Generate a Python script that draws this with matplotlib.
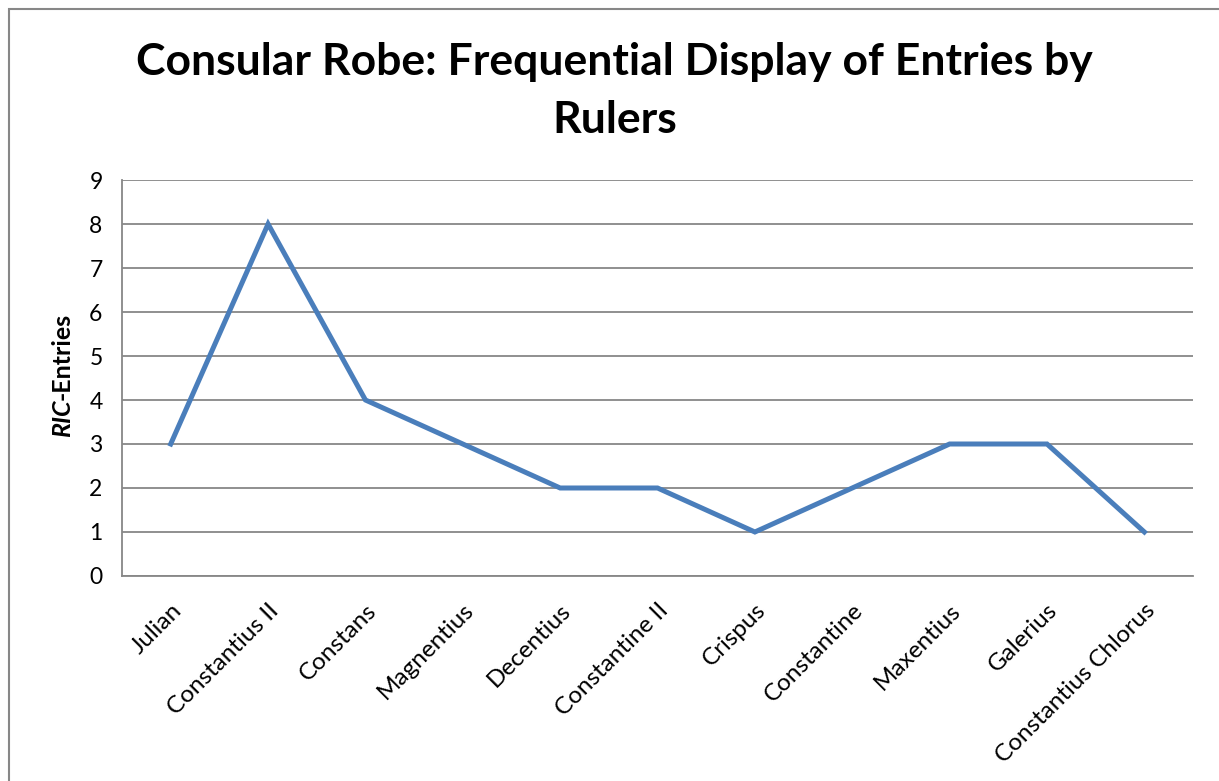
import matplotlib
matplotlib.use("Agg")
import matplotlib.pyplot as plt
from matplotlib.patches import Rectangle

# values
rulers = ["Julian", "Constantius II", "Constans", "Magnentius", "Decentius",
          "Constantine II", "Crispus", "Constantine", "Maxentius", "Galerius",
          "Constantius Chlorus"]
entries = [3, 8, 4, 3, 2, 2, 1, 2, 3, 3, 1]
y_ticks = list(range(0, 10))

plt.rcParams['font.family'] = ['Lato', 'DejaVu Sans']

fig = plt.figure(figsize=(12.19, 7.81), dpi=100)
ax = fig.add_axes([0.1001, 0.2625, 0.8786, 0.507])

x = list(range(len(rulers)))
ax.plot(x, entries, color="#4a7ebb", linewidth=3.6, solid_joinstyle="miter", zorder=3)

ax.set_xlim(-0.5, len(rulers) - 0.5)
ax.set_ylim(0, 9)
ax.set_yticks(y_ticks)
ax.set_yticklabels([str(v) for v in y_ticks], fontsize=16.5)
ax.set_xticks(x)
ax.set_xticklabels(rulers, rotation=45, ha="right", rotation_mode="anchor", fontsize=17.5)
ax.tick_params(axis="x", length=0, pad=17)
ax.tick_params(axis="y", length=0, pad=14)

ax.grid(axis="y", color="#878787", linewidth=1.3, zorder=1)
ax.set_axisbelow(True)
for side in ["top", "right"]:
    ax.spines[side].set_visible(False)
for side in ["left", "bottom"]:
    ax.spines[side].set_color("#878787")
    ax.spines[side].set_linewidth(1.3)

# y label: italic "RIC" followed by "-Entries"
t1 = fig.text(0.051, 0.44, "RIC", rotation=90, fontsize=18, fontweight="bold",
              fontstyle="italic", ha="center", va="bottom")
ax.annotate("-Entries", xy=(0.5, 1.0), xycoords=t1, rotation=90, fontsize=18,
            fontweight="bold", ha="center", va="bottom", annotation_clip=False)

fig.text(0.504, 0.883, "Consular Robe: Frequential Display of Entries by\nRulers",
         ha="center", va="center", fontsize=32, fontweight="bold", linespacing=1.55)

# outer chart frame
fig.patches.append(Rectangle((9 / 1219, -0.05), 1.1, 1 - 9 / 781 + 0.05,
                             transform=fig.transFigure, fill=False,
                             edgecolor="#878787", linewidth=1.5))

fig.savefig("out.png", dpi=100)
